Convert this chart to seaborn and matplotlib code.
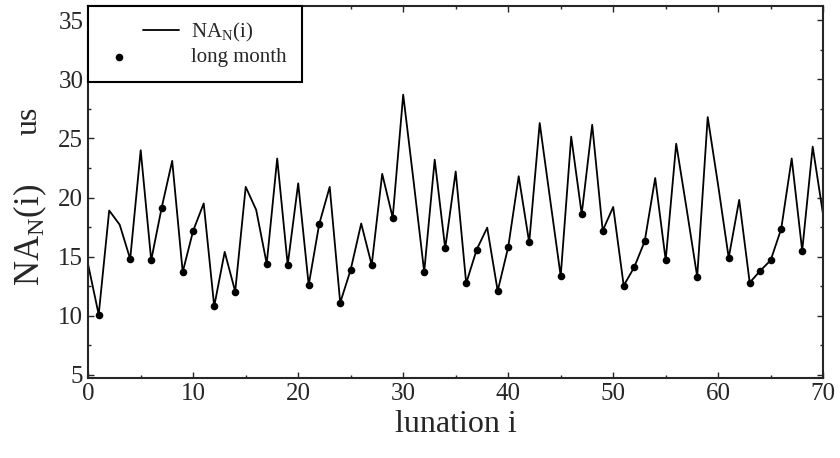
import numpy as np
import pandas as pd
import matplotlib
matplotlib.use("Agg")
import matplotlib.pyplot as plt
import seaborn as sns
from matplotlib.legend_handler import HandlerLine2D, HandlerPathCollection

# NA_N(i) per lunation
lunation = list(range(71))
na_values = [14.3, 10.1, 18.9, 17.7, 14.8, 24.0, 14.7, 19.15, 23.1, 13.7,
             17.2, 19.5, 10.8, 15.4, 12.05, 20.9, 18.95, 14.4, 23.3, 14.3,
             21.2, 12.6, 17.75, 20.9, 11.1, 13.9, 17.8, 14.3, 22.0, 18.3,
             28.7, 21.3, 13.7, 23.2, 15.7, 22.2, 12.75, 15.6, 17.45, 12.1,
             15.8, 21.8, 16.2, 26.3, 19.8, 13.35, 25.15, 18.6, 26.15, 17.2,
             19.2, 12.55, 14.1, 16.3, 21.65, 14.7, 24.55, 19.0, 13.3, 26.8,
             21.0, 14.9, 19.8, 12.8, 13.8, 14.7, 17.35, 23.3, 15.5, 24.3,
             18.5]
long_months = [1, 4, 6, 7, 9, 10, 12, 14, 17, 19, 21, 22, 24, 25, 27, 29, 32,
               34, 36, 37, 39, 40, 42, 45, 47, 49, 51, 52, 53, 55, 58, 61, 63,
               64, 65, 66, 68]

df = pd.DataFrame({"i": lunation, "na": na_values})
df_long = df[df["i"].isin(long_months)]


# legend handles: line on the right part of the handle box, dot on the left
class RightLine(HandlerLine2D):
    def create_artists(self, legend, orig_handle, xdescent, ydescent,
                       width, height, fontsize, trans):
        return super().create_artists(legend, orig_handle,
                                      xdescent - 0.53 * width, ydescent,
                                      0.47 * width, height, fontsize, trans)


class LeftDot(HandlerPathCollection):
    def create_artists(self, legend, orig_handle, xdescent, ydescent,
                       width, height, fontsize, trans):
        return super().create_artists(legend, orig_handle, xdescent,
                                      ydescent, 0.42 * width, height,
                                      fontsize, trans)


sns.set_style("ticks")
plt.rcParams['font.family'] = ['Liberation Serif', 'DejaVu Serif']
plt.rcParams['mathtext.fontset'] = 'custom'
plt.rcParams['mathtext.rm'] = 'Liberation Serif'
plt.rcParams['mathtext.it'] = 'Liberation Serif:italic'

fig = plt.figure(figsize=(8.4, 4.58), dpi=100)
ax = fig.add_axes([0.105, 0.175, 0.875, 0.812])

sns.lineplot(data=df, x="i", y="na", color="black", linewidth=1.3, ax=ax,
             label="NA$_\\mathrm{N}$(i)")
sns.scatterplot(data=df_long, x="i", y="na", color="black", s=30,
                edgecolor="black", linewidth=0, ax=ax, label="long month")

ax.set_xlim(0, 70)
ax.set_ylim(4.75, 36.2)
ax.set_xticks(np.arange(0, 71, 10))
ax.set_xticks(np.arange(0, 71, 5), minor=True)
ax.set_yticks(np.arange(5, 36, 5))
ax.set_yticks(np.arange(5, 36, 2.5), minor=True)
ax.tick_params(which="both", direction="in", top=True, right=True,
               labelsize=18, width=1.0)
ax.tick_params(which="major", length=4)
ax.tick_params(which="minor", length=2.5)
for s in ax.spines.values():
    s.set_linewidth(1.5)

ax.set_xlabel("lunation i", fontsize=23, labelpad=4)
ax.set_ylabel("NA$_\\mathrm{N}$(i)", fontsize=25)
ax.yaxis.set_label_coords(-0.053, 0.384)
ax.text(-0.081, 0.69, "us", transform=ax.transAxes, rotation=90,
        ha="center", va="center", fontsize=23)

handles, labels = ax.get_legend_handles_labels()
leg = ax.legend(handles, labels, loc="upper left", borderaxespad=0,
                fontsize=15, fancybox=False, handlelength=3.65,
                handletextpad=0.6, borderpad=0.7, labelspacing=0.2,
                framealpha=1,
                handler_map={handles[0]: RightLine(),
                             handles[1]: LeftDot()})
leg.get_frame().set_edgecolor("black")
leg.get_frame().set_linewidth(1.5)

plt.savefig("out.png", dpi=100)
